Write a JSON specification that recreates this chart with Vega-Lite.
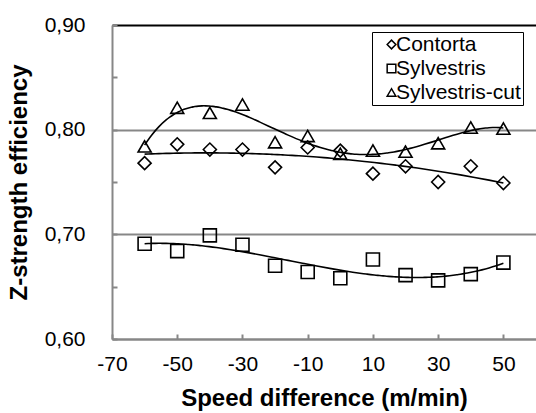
{
  "$schema": "https://vega.github.io/schema/vega-lite/v6.json",
  "width": 424,
  "height": 314,
  "autosize": "none",
  "padding": {"left": 112, "top": 25, "right": 0, "bottom": 74},
  "background": "white",
  "config": {
    "font": "Liberation Sans",
    "view": {"stroke": null}
  },
  "data": {
    "values": [
      {"speed": -60, "eff": 0.768, "series": "Contorta"},
      {"speed": -50, "eff": 0.786, "series": "Contorta"},
      {"speed": -40, "eff": 0.781, "series": "Contorta"},
      {"speed": -30, "eff": 0.781, "series": "Contorta"},
      {"speed": -20, "eff": 0.764, "series": "Contorta"},
      {"speed": -10, "eff": 0.783, "series": "Contorta"},
      {"speed": 0, "eff": 0.780, "series": "Contorta"},
      {"speed": 10, "eff": 0.758, "series": "Contorta"},
      {"speed": 20, "eff": 0.765, "series": "Contorta"},
      {"speed": 30, "eff": 0.750, "series": "Contorta"},
      {"speed": 40, "eff": 0.765, "series": "Contorta"},
      {"speed": 50, "eff": 0.749, "series": "Contorta"},
      {"speed": -60, "eff": 0.691, "series": "Sylvestris"},
      {"speed": -50, "eff": 0.684, "series": "Sylvestris"},
      {"speed": -40, "eff": 0.699, "series": "Sylvestris"},
      {"speed": -30, "eff": 0.690, "series": "Sylvestris"},
      {"speed": -20, "eff": 0.670, "series": "Sylvestris"},
      {"speed": -10, "eff": 0.664, "series": "Sylvestris"},
      {"speed": 0, "eff": 0.658, "series": "Sylvestris"},
      {"speed": 10, "eff": 0.676, "series": "Sylvestris"},
      {"speed": 20, "eff": 0.661, "series": "Sylvestris"},
      {"speed": 30, "eff": 0.656, "series": "Sylvestris"},
      {"speed": 40, "eff": 0.662, "series": "Sylvestris"},
      {"speed": 50, "eff": 0.673, "series": "Sylvestris"},
      {"speed": -60, "eff": 0.784, "series": "Sylvestris-cut"},
      {"speed": -50, "eff": 0.821, "series": "Sylvestris-cut"},
      {"speed": -40, "eff": 0.816, "series": "Sylvestris-cut"},
      {"speed": -30, "eff": 0.824, "series": "Sylvestris-cut"},
      {"speed": -20, "eff": 0.788, "series": "Sylvestris-cut"},
      {"speed": -10, "eff": 0.794, "series": "Sylvestris-cut"},
      {"speed": 0, "eff": 0.777, "series": "Sylvestris-cut"},
      {"speed": 10, "eff": 0.780, "series": "Sylvestris-cut"},
      {"speed": 20, "eff": 0.779, "series": "Sylvestris-cut"},
      {"speed": 30, "eff": 0.787, "series": "Sylvestris-cut"},
      {"speed": 40, "eff": 0.802, "series": "Sylvestris-cut"},
      {"speed": 50, "eff": 0.801, "series": "Sylvestris-cut"}
    ]
  },
  "layer": [
    {
      "transform": [
        {"filter": "datum.series == 'Contorta'"},
        {"regression": "eff", "on": "speed", "method": "poly", "order": 2}
      ],
      "mark": {"type": "line", "color": "black", "strokeWidth": 1.6, "interpolate": "monotone"},
      "encoding": {
        "x": {"field": "speed", "type": "quantitative"},
        "y": {"field": "eff", "type": "quantitative"}
      }
    },
    {
      "transform": [
        {"filter": "datum.series == 'Sylvestris'"},
        {"regression": "eff", "on": "speed", "method": "poly", "order": 3}
      ],
      "mark": {"type": "line", "color": "black", "strokeWidth": 1.6, "interpolate": "monotone"},
      "encoding": {
        "x": {"field": "speed", "type": "quantitative"},
        "y": {"field": "eff", "type": "quantitative"}
      }
    },
    {
      "transform": [
        {"filter": "datum.series == 'Sylvestris-cut'"},
        {"regression": "eff", "on": "speed", "method": "poly", "order": 4}
      ],
      "mark": {"type": "line", "color": "black", "strokeWidth": 1.6, "interpolate": "monotone"},
      "encoding": {
        "x": {"field": "speed", "type": "quantitative"},
        "y": {"field": "eff", "type": "quantitative"}
      }
    },
    {
      "mark": {"type": "point", "filled": false, "strokeWidth": 1.6, "color": "black", "opacity": 1},
      "encoding": {
        "x": {
          "field": "speed",
          "type": "quantitative",
          "scale": {"domain": [-70, 60], "nice": false, "zero": false},
          "axis": {
            "values": [-70, -60, -50, -40, -30, -20, -10, 0, 10, 20, 30, 40, 50, 60],
            "labelExpr": "(datum.value + 70) % 20 == 0 && datum.value <= 50 ? '' + datum.value : ''",
            "grid": false,
            "domainColor": "#878787",
            "domainWidth": 2,
            "tickColor": "#878787",
            "tickWidth": 2,
            "tickSize": -5,
            "labelFontSize": 21,
            "labelColor": "black",
            "labelPadding": 19,
            "labelFlush": false,
            "labelOverlap": false,
            "title": "Speed difference (m/min)",
            "titleFontSize": 24,
            "titleFontWeight": "bold",
            "titleColor": "black",
            "titlePadding": 12
          }
        },
        "y": {
          "field": "eff",
          "type": "quantitative",
          "scale": {"domain": [0.6, 0.9], "nice": false, "zero": false},
          "axis": {
            "values": [0.6, 0.65, 0.7, 0.75, 0.8, 0.85, 0.9],
            "labelExpr": "round(datum.value * 20) % 2 == 0 ? replace(format(datum.value, '.2f'), '.', ',') : ''",
            "grid": true,
            "gridColor": {"condition": {"test": "datum.value > 0.89", "value": "black"}, "value": "#878787"},
            "gridOpacity": {"condition": {"test": "round(datum.value * 20) % 2 == 1", "value": 0}, "value": 1},
            "gridWidth": 2,
            "domainColor": "#878787",
            "domainWidth": 2,
            "tickColor": "#878787",
            "tickWidth": 2,
            "tickSize": -5,
            "labelFontSize": 21,
            "labelColor": "black",
            "labelPadding": 32,
            "labelFlush": false,
            "labelOverlap": false,
            "title": "Z-strength efficiency",
            "titleFontSize": 24,
            "titleFontWeight": "bold",
            "titleColor": "black",
            "titlePadding": 13
          }
        },
        "shape": {
          "field": "series",
          "type": "nominal",
          "scale": {"domain": ["Contorta", "Sylvestris", "Sylvestris-cut"], "range": ["diamond", "square", "triangle-up"]},
          "legend": {
            "title": null,
            "orient": "none",
            "legendX": 260,
            "legendY": 7,
            "strokeColor": "black",
            "fillColor": "white",
            "padding": 2,
            "labelFontSize": 21,
            "labelColor": "black",
            "symbolSize": 75,
            "symbolStrokeColor": "black",
            "symbolStrokeWidth": 1.5,
            "symbolFillColor": "transparent",
            "symbolOffset": 7,
            "labelOffset": -6,
            "rowPadding": 2
          }
        },
        "size": {"value": 170}
      }
    }
  ]
}
